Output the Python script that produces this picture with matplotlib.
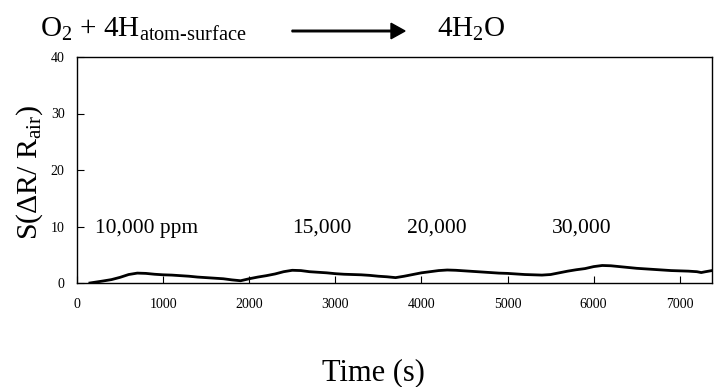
import matplotlib
matplotlib.use("Agg")
import matplotlib.pyplot as plt
import numpy as np

plt.rcParams['font.family'] = ['Liberation Serif', 'DejaVu Serif']
plt.rcParams['mathtext.fontset'] = 'custom'
plt.rcParams['mathtext.rm'] = 'Liberation Serif'
plt.rcParams['mathtext.it'] = 'Liberation Serif:italic'
plt.rcParams['mathtext.bf'] = 'Liberation Serif:bold'

# data
time_s = [150, 300, 400, 500, 600, 700, 800, 900, 1000, 1100, 1200, 1300, 1400, 1500,
          1600, 1700, 1800, 1900, 2000, 2100, 2200, 2300, 2400, 2500, 2600, 2700, 2800,
          2900, 3000, 3100, 3200, 3300, 3400, 3500, 3600, 3700, 3800, 3900, 4000, 4100,
          4200, 4300, 4400, 4500, 4600, 4700, 4800, 4900, 5000, 5100, 5200, 5300, 5400,
          5500, 5600, 5700, 5800, 5900, 6000, 6100, 6200, 6300, 6400, 6500, 6600, 6700,
          6800, 6900, 7000, 7100, 7200, 7250, 7300, 7375]
response = [0.0, 0.35, 0.6, 1.0, 1.5, 1.75, 1.7, 1.55, 1.45, 1.4, 1.3, 1.2, 1.05, 0.95,
            0.85, 0.75, 0.55, 0.4, 0.75, 1.05, 1.3, 1.6, 2.0, 2.25, 2.2, 2.0, 1.9,
            1.8, 1.65, 1.55, 1.5, 1.45, 1.35, 1.2, 1.1, 0.95, 1.2, 1.5, 1.8, 2.0,
            2.2, 2.3, 2.25, 2.15, 2.05, 1.95, 1.85, 1.75, 1.7, 1.6, 1.5, 1.45, 1.4,
            1.5, 1.8, 2.1, 2.35, 2.55, 2.9, 3.1, 3.05, 2.9, 2.75, 2.6, 2.5, 2.4,
            2.3, 2.2, 2.15, 2.1, 2.0, 1.85, 2.0, 2.2]

conc_labels = ["10,000 ppm", "15,000", "20,000", "30,000"]
conc_label_x = [210, 2497, 3833, 5517]
conc_label_y = [9.7, 9.7, 9.7, 9.7]

x_ticks = [0, 1000, 2000, 3000, 4000, 5000, 6000, 7000]
y_ticks = [0, 10, 20, 30, 40]

fig = plt.figure(figsize=(7.21, 3.87), dpi=100)
ax = fig.add_axes([77/721, 1-283/387, (712-77)/721, (283-57)/387])

ax.plot(time_s, response, color='black', linewidth=2.0)

for lab, lx, ly in zip(conc_labels, conc_label_x, conc_label_y):
    ax.text(lx, ly, lab, fontsize=15.5, ha='left', va='center')

ax.set_xlim(0, 7375)
ax.set_ylim(0, 40)
ax.set_xticks(x_ticks)
ax.set_yticks(y_ticks)
ax.tick_params(direction='in', length=5, width=0.8, labelsize=10)
ax.tick_params(axis='x', pad=11)
ax.tick_params(axis='y', pad=9)
for s in ax.spines.values():
    s.set_linewidth(1.0)

fig.text(30/721, 1-172/387, r"S($\Delta$R/ R$_{\mathrm{air}}$)", rotation=90,
         fontsize=21.5, ha='center', va='center')
fig.text(373/721, 1-373/387, "Time (s)", fontsize=22, ha='center', va='center')

# reaction header
fig.text(40/721, 1-37/387, r"O$_2$ + 4H$_{\mathrm{atom\text{-}surface}}$", fontsize=21,
         ha='left', va='baseline')
fig.text(437/721, 1-37/387, r"4H$_2$O", fontsize=21, ha='left', va='baseline')
fig.patches.append(matplotlib.patches.FancyArrow(
    292/721, 1-31/387, (405-292)/721, 0, width=0.004, head_width=0.04,
    head_length=14/721, length_includes_head=True, color='black',
    transform=fig.transFigure, figure=fig))

fig.savefig("out.png", dpi=100)
